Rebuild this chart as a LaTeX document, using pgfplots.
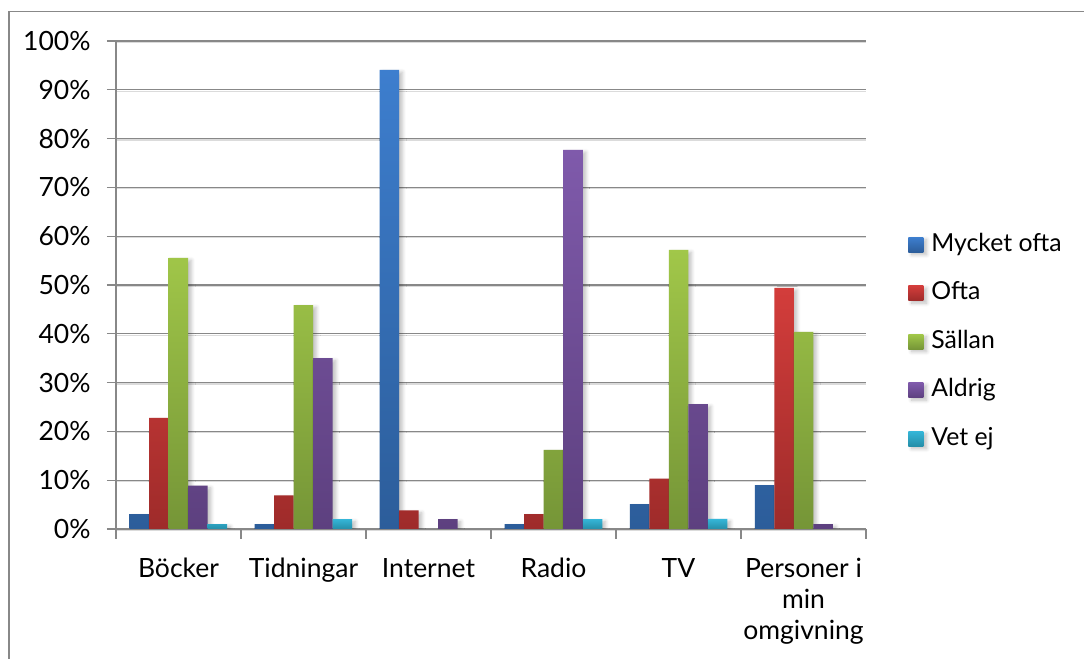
\documentclass[border=0pt]{standalone}
\usepackage{fontspec}
\setmainfont{Lato}
\usepackage{pgfplots}
\pgfplotsset{compat=1.18}
\usetikzlibrary{shadows.blur}

% bar gradients: light at the top, dark at the bottom
\definecolor{blueT}{RGB}{61,126,206}
\definecolor{blueB}{RGB}{44,93,154}
\definecolor{redT}{RGB}{211,61,59}
\definecolor{redB}{RGB}{158,43,42}
\definecolor{greenT}{RGB}{161,199,73}
\definecolor{greenB}{RGB}{117,149,55}
\definecolor{purpleT}{RGB}{127,90,171}
\definecolor{purpleB}{RGB}{93,64,127}
\definecolor{cyanT}{RGB}{53,182,216}
\definecolor{cyanB}{RGB}{37,142,168}
\definecolor{linegray}{RGB}{136,136,136}

\tikzset{
  barshadow/.style={blur shadow={shadow xshift=1.6pt, shadow yshift=-1.2pt,
      shadow blur radius=1.8pt, shadow blur steps=6, shadow opacity=25}},
}

\begin{document}
\begin{tikzpicture}[x=1pt,y=1pt]
\path[use as bounding box] (0,0) rectangle (542,329.5);
% frame of the chart area
\draw[linegray, line width=0.8pt] (4.6,-3) -- (4.6,323.8) -- (546,323.8);

\begin{axis}[
  at={(58pt,65pt)}, anchor=south west,
  scale only axis, width=375pt, height=244pt,
  xmin=-0.5, xmax=5.5, ymin=0, ymax=100,
  axis x line*=bottom, axis y line*=left,
  axis line style={linegray, line width=0.65pt},
  tick align=outside,
  ytick={0,10,...,100},
  yticklabel={\pgfmathprintnumber[assume math mode=true]{\tick}\%},
  yticklabel style={anchor=east, inner sep=0pt, xshift=-8pt},
  major tick length=4.5pt,
  minor tick length=5pt,
  ytick style={linegray, line width=0.65pt},
  xtick={0,...,5},
  xticklabels={Böcker, Tidningar, Internet, Radio, TV, {Personer i\\min\\omgivning}},
  minor xtick={-0.5,0.5,...,5.5},
  major x tick style={draw=none},
  minor x tick style={linegray, line width=0.65pt},
  typeset ticklabels with strut,
  xticklabel style={align=center, anchor=north, inner sep=0pt, yshift=-8.8pt},
  ticklabel style={font=\fontsize{13.25}{15.4}\selectfont},
  ymajorgrids,
  major grid style={linegray, line width=0.65pt,
     preaction={draw=black!14, line width=0.6pt, transform canvas={yshift=-0.7pt}}},
  ybar=0pt, bar width=9.75pt,
  legend cell align=left,
  legend image code/.code={\path[barshadow/.style={}, #1, draw=none] (0pt,-3.75pt) rectangle (7.5pt,3.75pt);},
  legend style={at={(axis description cs:1.056,0.6066)}, anchor=north west,
     draw=none, fill=none, inner sep=0pt, column sep=4pt, row sep=12.85pt,
     font=\fontsize{12.4}{14}\selectfont,
     nodes={inner sep=0pt, text height=8.9pt, text depth=2.5pt, anchor=west}},
]
% Mycket ofta
\addplot[draw=none, top color=blueT, bottom color=blueB, barshadow]
  coordinates {(0,3.05) (1,1.0) (2,94.1) (3,1.0) (4,5.1) (5,9.0)};
% Ofta
\addplot[draw=none, top color=redT, bottom color=redB, barshadow]
  coordinates {(0,22.75) (1,6.9) (2,3.8) (3,3.05) (4,10.3) (5,49.4)};
% Sällan (Internet: 0)
\addplot[draw=none, top color=greenT, bottom color=greenB, barshadow]
  coordinates {(0,55.55) (1,45.9) (3,16.2) (4,57.2) (5,40.4)};
% Aldrig
\addplot[draw=none, top color=purpleT, bottom color=purpleB, barshadow]
  coordinates {(0,8.9) (1,35.0) (2,2.0) (3,77.7) (4,25.6) (5,1.0)};
% Vet ej (Internet and Personer: 0)
\addplot[draw=none, top color=cyanT, bottom color=cyanB, barshadow]
  coordinates {(0,1.0) (1,2.0) (3,2.0) (4,2.05)};
\legend{Mycket ofta, Ofta, Sällan, Aldrig, Vet ej}
\end{axis}
\end{tikzpicture}
\end{document}
